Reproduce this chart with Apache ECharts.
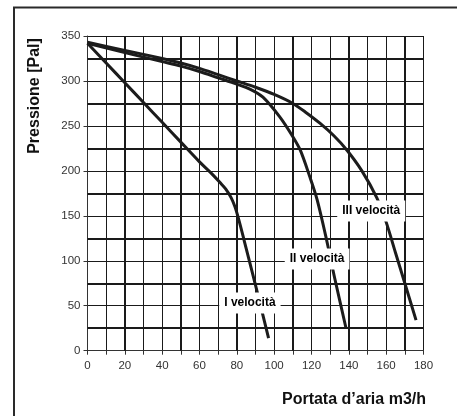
<!DOCTYPE html>
<html><head><meta charset="utf-8">
<script src="https://cdn.jsdelivr.net/npm/echarts@6/dist/echarts.min.js"></script>
<style>html,body{margin:0;padding:0;background:#fff}#c{width:457px;height:416px}</style>
</head><body><div id="c"></div>
<script>
// Curve I velocità
const flowI  = [0, 10, 20, 30, 40, 50, 60, 66, 71, 74, 77, 79, 81, 84, 90, 97];
const pressI = [342, 320, 298, 276, 254, 232, 210, 198, 187, 180, 170, 160, 146, 122, 73, 14];
// Curve II velocità
const flowII  = [0, 20, 40, 50, 60, 70, 80, 87, 94, 103, 110, 114, 119, 123, 128, 132.5, 138.5];
const pressII = [342, 331.5, 321.5, 316.5, 310.5, 303.5, 296.5, 291, 282, 260, 238, 223, 194, 168, 124, 80, 25];
// Curve III velocità
const flowIII  = [0, 20, 40, 50, 60, 70, 80, 90, 100, 110, 117, 124.5, 132, 139, 147, 155, 160, 165, 170, 176];
const pressIII = [343, 334, 325, 320, 314, 307, 300, 293, 285, 275, 265, 253, 239, 223, 200, 170, 143, 109, 75, 34];
// Curve labels
const labelTexts = ['I velocità', 'II velocità', 'III velocità'];
const labelX = [87, 123, 152];
const labelY = [53, 102, 155.5];
// Grid: heavy lines
const thickX = [20, 50, 80, 110, 140, 170];
const thickY = [25, 75, 125, 175, 225, 275, 325];
// Axes
const xMin = 0, xMax = 180, xStep = 10;
const yMin = 0, yMax = 350, yStep = 50;

const zip = (a, b) => a.map((v, i) => [v, b[i]]);
const chart = echarts.init(document.getElementById('c'), null, {renderer: 'canvas'});
const curveStyle = {color: '#1c1c1c', width: 3};
const lbl = {color: '#333', fontFamily: 'Liberation Sans, Arial, sans-serif', fontSize: 11.5};

chart.setOption({
  animation: false,
  backgroundColor: '#fff',
  grid: {left: 87.5, right: 33.5, top: 36, bottom: 65.3, containLabel: false},
  xAxis: {
    type: 'value', min: xMin, max: xMax, interval: xStep,
    axisLine: {show: true, onZero: false, lineStyle: {color: '#333', width: 1}},
    axisTick: {show: true, length: 4, interval: 1, lineStyle: {color: '#333'}},
    axisLabel: Object.assign({margin: 9, interval: 1,
      formatter: v => (v % 20 === 0 ? String(v) : '')}, lbl),
    splitLine: {show: true, lineStyle: {color: '#1a1a1a', width: 1}}
  },
  yAxis: {
    type: 'value', min: yMin, max: yMax, interval: yStep,
    axisLine: {show: true, onZero: false, lineStyle: {color: '#333', width: 1}},
    axisTick: {show: true, length: 4, lineStyle: {color: '#333'}},
    axisLabel: Object.assign({margin: 7}, lbl),
    splitLine: {show: true, lineStyle: {color: '#1a1a1a', width: 1}}
  },
  graphic: [
    {type: 'rect', shape: {x: 14, y: 7.5, width: 470, height: 430},
     style: {fill: null, stroke: '#2a2a2a', lineWidth: 2}, z: 100},
    {type: 'text', x: 35, y: 96, rotation: Math.PI / 2,
     style: {text: 'Pressione [Pal]', fill: '#111', font: 'bold 16px "Liberation Sans", Arial, sans-serif',
             textAlign: 'center', textVerticalAlign: 'middle'}, z: 100},
    {type: 'text', x: 426, y: 400,
     style: {text: 'Portata d’aria m3/h', fill: '#111', font: 'bold 16px "Liberation Sans", Arial, sans-serif',
             textAlign: 'right', textVerticalAlign: 'middle'}, z: 100}
  ],
  series: [
    {
      type: 'line', data: [[xMin, yMin]], symbol: 'none', silent: true, z: 1,
      lineStyle: {opacity: 0},
      markLine: {
        silent: true, symbol: ['none', 'none'], label: {show: false}, animation: false,
        lineStyle: {color: '#1a1a1a', width: 2, type: 'solid'},
        data: thickX.map(v => ({xAxis: v})).concat(thickY.map(v => ({yAxis: v})))
      }
    },
    {type: 'line', name: 'I', data: zip(flowI, pressI), smooth: 0.3, symbol: 'none', lineStyle: curveStyle, z: 3},
    {type: 'line', name: 'II', data: zip(flowII, pressII), smooth: 0.3, symbol: 'none', lineStyle: curveStyle, z: 3},
    {type: 'line', name: 'III', data: zip(flowIII, pressIII), smooth: 0.3, symbol: 'none', lineStyle: curveStyle, z: 3},
    {
      type: 'scatter', z: 10, symbolSize: 0, silent: true,
      itemStyle: {color: '#111', opacity: 1},
      data: labelTexts.map((t, i) => ({name: t, value: [labelX[i], labelY[i]]})),
      label: {
        show: true, position: 'inside', formatter: p => p.name,
        color: '#000', fontWeight: 'bold', fontSize: 12, opacity: 1,
        textBorderWidth: 0, textShadowBlur: 0,
        fontFamily: '"Liberation Sans Narrow", "Liberation Sans", Arial, sans-serif',
        backgroundColor: '#fff', padding: [5, 5, 4, 5]
      }
    }
  ]
});
</script></body></html>
